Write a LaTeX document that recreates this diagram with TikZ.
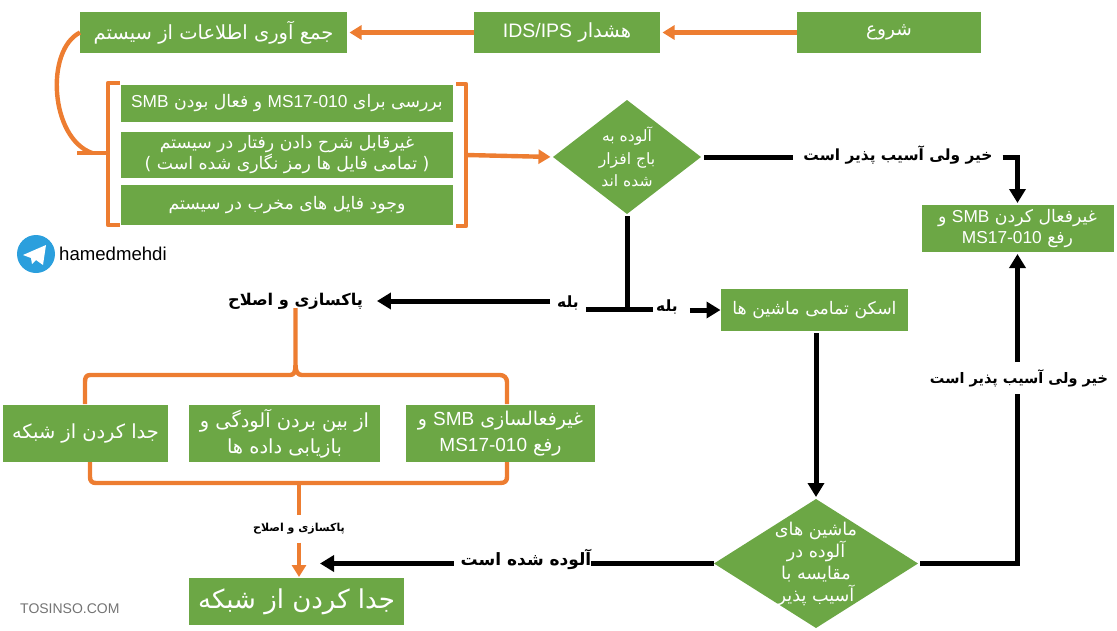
\documentclass[tikz,border=0pt]{standalone}
\usepackage{fontspec}
\usetikzlibrary{shapes.geometric,arrows.meta}
\TeXXeTstate=1
\setmainfont{Liberation Sans}
\newfontfamily\arabicfont[Script=Arabic]{DejaVu Sans}
\newfontfamily\latinfont{Liberation Sans}
\newcommand{\lt}[1]{\beginL{\latinfont #1}\endL{}}
\definecolor{gr}{HTML}{6CA745}
\definecolor{og}{HTML}{ED7D31}
\definecolor{tg}{HTML}{2B9FDD}
\newcommand{\afs}[2]{\arabicfont\fontsize{#1}{#2}\selectfont}
\tikzset{
  gbox/.style={fill=gr,text=white,inner sep=0pt,outer sep=0pt,align=center,font=\afs{17.3}{21}},
  gdia/.style={diamond,fill=gr,inner sep=0pt,outer sep=0pt},
  dtext/.style={text=white,align=center,font=\afs{15.6}{22.5}},
  blab/.style={inner sep=7pt,outer sep=0pt,text=black,font=\afs{15.4}{18}\bfseries},
  oline/.style={draw=og,line width=4.4pt},
  bline/.style={draw=black,line width=5pt},
  oarrow/.style={oline,-{Triangle[width=14pt,length=12pt]},shorten >=2.5pt},
  barrow/.style={bline,-{Triangle[width=16pt,length=14pt]},shorten >=2pt}
}
\begin{document}
\begin{tikzpicture}[x=1pt,y=-1pt]
\path[use as bounding box] (0,0) rectangle (1117,630);
% top row
\node[gbox,font=\afs{18.5}{22},minimum width=184pt,minimum height=41pt] (start) at (889,32.5) {\beginR شروع\endR};
\node[gbox,font=\afs{19.5}{22},minimum width=186pt,minimum height=41pt] (ids) at (567,32.5) {\beginR هشدار \lt{IDS/IPS}\endR};
\node[gbox,font=\afs{19.5}{22},minimum width=267pt,minimum height=41pt] (collect) at (213.5,32.5) {\beginR جمع آوری اطلاعات از سیستم\endR};
% evidence boxes
\node[gbox,minimum width=332pt,minimum height=37pt] (chk) at (287,103.5) {\beginR بررسی برای \lt{MS17-010} و فعال بودن \lt{SMB}\endR};
\node[gbox,minimum width=332pt,minimum height=46pt] (beh) at (287,155) {\beginR غیرقابل شرح دادن رفتار در سیستم\endR\\\beginR ( تمامی فایل ها رمز نگاری شده است )\endR};
\node[gbox,minimum width=332pt,minimum height=40pt] (mal) at (287,205) {\beginR وجود فایل های مخرب در سیستم\endR};
% brackets
\coordinate (lbr) at (108,153);
\coordinate (rbr) at (466,155);
\draw[oline,line join=round] (120,83) -- (108,83) -- (lbr) -- (108,225) -- (120,225);
\draw[oline,line join=round] (456,84) -- (466,84) -- (rbr) -- (466,226) -- (456,226);
% decision 1
\node[gdia,minimum width=148pt,minimum height=114pt,label={[dtext]center:{\beginR آلوده به\endR\\\beginR باج افزار\endR\\\beginR شده اند\endR}}] (d1) at (627,157) {};
% connectors orange
\draw[oarrow] (start.west) -- (ids.east);
\draw[oarrow] (ids.west) -- (collect.east);
\coordinate (ltail) at (77,153);
\coordinate (lj) at (92,153);
\draw[oline] (collect.west) .. controls (45,50) and (50,138) .. (lj);
\draw[oline] (lbr) -- (ltail);
\draw[oarrow] (rbr) -- (d1.west);
% no / vulnerable
\node[gbox,minimum width=192pt,minimum height=47pt] (fix) at (1017.5,228.5) {\beginR غیرفعال کردن \lt{SMB} و\endR\\\beginR رفع \lt{MS17-010}\endR};
\node[blab,inner xsep=10pt] (no1) at (898,155) {\beginR خیر ولی آسیب پذیر است\endR};
\coordinate (c1) at (1017.5,157);
\coordinate (d1e) at (704,157);
\draw[bline] (d1e) -- (no1.west |- d1e);
\draw[barrow,line join=miter] (no1.east |- c1) -- (c1) -- (fix.north);
% yes
\node[blab,font=\afs{15.5}{18}\bfseries] (yesL) at (568,303) {\beginR بله\endR};
\node[blab,font=\afs{15.5}{18}\bfseries,inner xsep=3pt] (yesR) at (667,307) {\beginR بله\endR};
\node[gbox,minimum width=187pt,minimum height=42pt] (scan) at (814.5,310) {\beginR اسکن تمامی ماشین ها\endR};
\node[blab,font=\afs{16.2}{19}\bfseries,inner xsep=12pt] (clean) at (295.5,301) {\beginR پاکسازی و اصلاح\endR};
\coordinate (yj) at (627,309);
\draw[bline,shorten <=2pt] (d1.south) -- (yj);
\draw[bline] (yesL.east |- yj) -- (yj) -- (yesR.west |- yj);
\draw[barrow] (yesL.west |- clean) -- (clean.east);
\draw[barrow,shorten <=9pt,shorten >=0.5pt] (yesR.east |- scan) -- (scan.west);
% decision 2
\node[gdia,minimum width=204pt,minimum height=129pt,label={[dtext,font=\afs{17.6}{22}]center:{\beginR ماشین های\endR\\\beginR آلوده در\endR\\\beginR مقایسه با\endR\\\beginR آسیب پذیر\endR}}] (d2) at (816,563.5) {};
\draw[barrow,shorten <=2pt] (d2.north |- scan.south) -- (d2.north);
% right side
\node[blab,font=\afs{14.5}{17}\bfseries] (no2) at (1019,378) {\beginR خیر ولی آسیب پذیر است\endR};
\coordinate (c2) at (1017.5,563.5);
\coordinate (no2s) at (1017.5,394);
\coordinate (no2n) at (1017.5,362);
\draw[bline,line join=miter,shorten <=2pt] (d2.east) -- (c2) -- (no2s);
\draw[barrow] (no2n) -- (fix.south);
% remediation boxes
\node[gbox,font=\afs{19.4}{26},minimum width=165pt,minimum height=57pt] (iso) at (85.5,433.5) {\beginR جدا کردن از شبکه\endR};
\node[gbox,font=\afs{19.4}{26},minimum width=191pt,minimum height=57pt] (rec) at (284.5,433.5) {\beginR از بین بردن آلودگی و\endR\\\beginR بازیابی داده ها\endR};
\node[gbox,font=\afs{19}{26},minimum width=189pt,minimum height=57pt] (dis) at (500.5,433.5) {\beginR غیرفعالسازی \lt{SMB} و\endR\\\beginR رفع \lt{MS17-010}\endR};
% top brace
\coordinate (bt) at (295.5,365);
\draw[oline,line join=round] ([yshift=8pt]clean.south) -- (bt) .. controls (295.5,372) and (294,375) .. (290,375) -- (90,375) .. controls (86,375) and (85,378) .. (85,382) -- (85,404);
\draw[oline,line join=round] (bt) .. controls (295.5,372) and (298,375) .. (302,375) -- (500,375) .. controls (504,375) and (507,378) .. (507,382) -- (507,404);
% bottom brace
\coordinate (bb) at (299,483);
\draw[oline,line join=round] (90,462) -- (90,477) .. controls (90,481) and (92,483) .. (96,483) -- (500,483) .. controls (505,483) and (507,481) .. (507,477) -- (507,462);
\node[blab,font=\afs{11}{13}\bfseries,inner ysep=8pt] (cleansm) at (299,529) {\beginR پاکسازی و اصلاح\endR};
\node[gbox,minimum width=215pt,minimum height=47pt,font=\afs{26}{30}] (big) at (296.5,601.5) {\beginR جدا کردن از شبکه\endR};
\draw[oline] (bb) -- (cleansm.north);
\draw[oarrow,shorten >=1pt] (cleansm.south) -- (big.north -| cleansm.south);
% infected
\node[blab,font=\afs{17}{20}\bfseries] (inf) at (526,559) {\beginR آلوده شده است\endR};
\coordinate (inft) at (320,563.5);
\draw[bline,shorten >=-7pt] (d2.west) -- (inf.east |- d2.west);
\draw[barrow,shorten >=0pt] (inf.west |- inft) -- (inft);
% telegram and marks
\node[circle,fill=tg,minimum size=38pt,inner sep=0pt,outer sep=0pt] (tgi) at (36,254) {};
\fill[white] (23,255) -- (46,245) -- (43,265) -- (36,260) -- (32,264) -- (31,258) -- cycle;
\node[inner sep=0pt,anchor=west,font=\fontsize{18.6}{22}\selectfont] (hm) at (59,254) {hamedmehdi};
\node[inner sep=0pt,anchor=west,text=black!55,font=\fontsize{14}{17}\selectfont] (tos) at (20,609) {TOSINSO.COM};
\end{tikzpicture}
\end{document}
